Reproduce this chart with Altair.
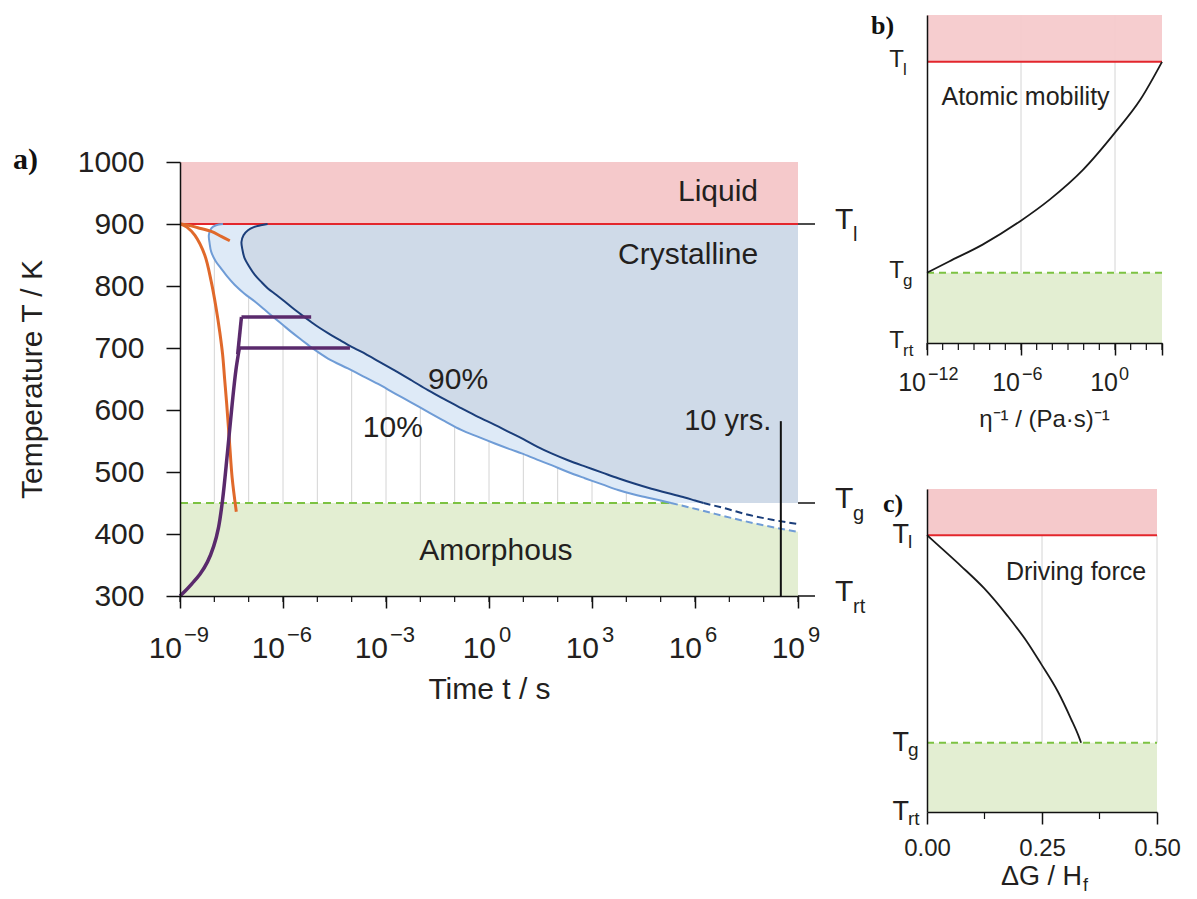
import altair as alt
import pandas as pd

FONT = "Liberation Sans"
SERIF = "Liberation Serif"
INK = "#231f20"
BLACK = "#111111"
PINK = "#f5c9cb"
RED = "#e3262c"
CRYST = "#cfdae8"
BAND = "#deeaf7"
GREEN = "#e3eed2"
GDASH = "#7cc242"
DARK = "#1b3e7a"
LIGHT = "#6f9cd6"
ORANGE = "#e0692b"
PURPLE = "#5a2a6c"
GRID = "#d4d4d4"

# ---------------- panel a data (T in K, L = log10(t / s)) ----------------
a_T10 = [900, 898, 893, 882, 870, 855, 840, 828, 815, 802, 788, 775, 762, 748, 737, 726, 716, 705, 700, 683,
         667, 656, 642, 627, 612, 597, 582, 568, 557, 546, 536, 530, 520, 511, 500, 490, 480, 471, 464, 459,
         454, 450]
a_L10 = [-7.75, -7.95, -8.09, -8.16, -8.14, -8.09, -7.96, -7.80, -7.62, -7.41, -7.13, -6.82, -6.54, -6.24, -6.00,
         -5.76, -5.53, -5.27, -5.15, -4.69, -4.11, -3.72, -3.23, -2.75, -2.26, -1.78, -1.29, -0.81, -0.33, 0.17,
         0.65, 0.95, 1.40, 1.82, 2.30, 2.79, 3.30, 3.76, 4.20, 4.60, 5.00, 5.30]
a_T90 = [900, 898, 895, 890, 882, 871, 858, 845, 832, 818, 807, 796, 786, 775, 764, 753, 742, 733, 724, 713,
         702, 694, 679, 664, 648, 632, 617, 603, 589, 576, 564, 553, 541, 530, 519, 509, 499, 490, 481, 473,
         466, 459, 454, 450]
a_L90 = [-6.45, -6.65, -6.85, -7.02, -7.15, -7.21, -7.18, -7.12, -6.99, -6.82, -6.64, -6.44, -6.20, -5.95, -5.71,
         -5.45, -5.18, -4.95, -4.69, -4.35, -4.00, -3.72, -3.23, -2.75, -2.26, -1.78, -1.29, -0.81, -0.32, 0.17,
         0.60, 1.00, 1.40, 1.82, 2.30, 2.79, 3.30, 3.76, 4.25, 4.73, 5.20, 5.70, 6.00, 6.25]
a_T10_dash = [450, 438, 426, 414, 403.5]
a_L10_dash = [5.30, 6.20, 7.05, 8.00, 9.00]
a_T90_dash = [450, 441, 431, 423, 416]
a_L90_dash = [6.25, 6.90, 7.55, 8.25, 9.00]
a_orange1_L = [-8.97, -8.80, -8.57, -8.28, -8.09, -7.95, -7.84, -7.76, -7.70, -7.64, -7.56, -7.48, -7.36]
a_orange1_T = [900, 895, 882, 850, 807, 765, 725, 690, 650, 610, 550, 490, 436]
a_orange2_L = [-8.97, -8.75, -8.48, -8.09, -7.80, -7.55]
a_orange2_T = [900, 898, 894, 888, 880, 873]
# purple heating curves: rising part, then isothermal holds
a_purple1_L = [-9.0, -8.85, -8.65, -8.42, -8.2, -8.02, -7.88, -7.76, -7.62, -7.48, -7.37, -7.27]
a_purple1_T = [300, 308, 320, 335, 355, 380, 410, 455, 530, 610, 665, 700]
a_purple1_hold_L = [-7.27, -4.05]
a_purple1_hold_T = [700, 700]
a_purple2_L = [-7.32, -7.21]
a_purple2_T = [690, 750]
a_purple2_hold_L = [-7.21, -5.18]
a_purple2_hold_T = [750, 750]
a_T_ticks = [300, 400, 500, 600, 700, 800, 900, 1000]
a_L_major = [-9, -6, -3, 0, 3, 6, 9]
a_L_minor = list(range(-9, 10))
a_grid_L = list(range(-8, 9))
a_marks_T = [900, 450, 300]
a_marks_sub = ["l", "g", "rt"]
a_lab_text = ["Liquid", "Crystalline", "Amorphous", "90%", "10%"]
a_lab_L = [6.67, 5.80, 0.20, -0.90, -2.80]
a_lab_T = [952, 850, 373, 649, 571]
a_10yrs_L = 8.5
a_10yrs_T = 582

# ---------------- panel b data ----------------
b_L = [-12, -10.59, -8.45, -6.05, -4.17, -2.03, 0.05, 1.61, 3.0]
b_T = [450, 474, 510, 560, 606, 670, 751, 819, 900]
b_L_major = [-12, -6, 0, 3]
b_L_labels = [-12, -6, 0]
b_L_minor = list(range(-12, 4))
b_grid_L = [-6, 0]

# ---------------- panel c data ----------------
c_x = [0, 0.030, 0.074, 0.124, 0.175, 0.218, 0.248, 0.285, 0.313, 0.329, 0.335]
c_T = [900, 873, 833, 785, 725, 668, 621, 560, 502, 466, 450]
c_x_major = [0, 0.25, 0.5]
c_x_minor = [0.125, 0.375]
c_grid_x = [0.25, 0.5]

WA, HA = 618, 434
WB, HB = 235, 328
WC, HC = 230, 323


def frame(**cols):
    return pd.DataFrame(cols)


one = frame(k=[0])


def sup(v):
    return str(v).replace("-", "\u2212")


# ================= panel a =================
xa = alt.Scale(domain=[-9, 9], nice=False, zero=False)
ya = alt.Scale(domain=[300, 1000], nice=False, zero=False)
axis_xa = alt.Axis(values=a_L_major, labels=False, tickSize=12, tickWidth=1.5, tickColor=BLACK,
                   domainColor=BLACK, domainWidth=1.5, grid=False, title="Time t / s", titleFont=FONT,
                   titleFontSize=30, titleFontWeight="normal", titleColor=INK, titlePadding=66, zindex=1)
axis_ya = alt.Axis(values=a_T_ticks, format="d", tickSize=14, tickWidth=1.5, tickColor=BLACK,
                   domainColor=BLACK, domainWidth=1.5, grid=False, labelFont=FONT, labelFontSize=30,
                   labelColor=INK, labelPadding=22, title="Temperature T / K", titleFont=FONT,
                   titleFontSize=30, titleFontWeight="normal", titleColor=INK, titlePadding=30, zindex=1)

a_grid = alt.Chart(frame(L=a_grid_L)).mark_rule(color=GRID, strokeWidth=1).encode(
    x="L:Q", y=alt.datum(450), y2=alt.datum(900))
a_band = alt.Chart(frame(T=a_T10, L=a_L10)).mark_area(
    orient="horizontal", color=BAND, interpolate="catmull-rom").encode(
    y=alt.Y("T:Q", scale=ya, axis=axis_ya), x=alt.X("L:Q", scale=xa, axis=axis_xa), x2=alt.datum(9))
a_cryst = alt.Chart(frame(T=a_T90, L=a_L90)).mark_area(
    orient="horizontal", color=CRYST, interpolate="catmull-rom").encode(
    y="T:Q", x="L:Q", x2=alt.datum(9))
a_green = alt.Chart(frame(L=[-9] + a_L10_dash, T=[450] + a_T10_dash)).mark_area(
    color=GREEN, interpolate="monotone").encode(x="L:Q", y="T:Q", y2=alt.datum(300))
a_pink = alt.Chart(one).mark_rect(color=PINK).encode(
    x=alt.datum(-9), x2=alt.datum(9), y=alt.datum(900), y2=alt.datum(1000))
a_red = alt.Chart(one).mark_rule(color=RED, strokeWidth=2).encode(
    x=alt.datum(-9), x2=alt.datum(9), y=alt.datum(900))
a_gdash = alt.Chart(one).mark_rule(color=GDASH, strokeWidth=2, strokeDash=[8, 5]).encode(
    x=alt.datum(-9), x2=alt.datum(a_L10_dash[0]), y=alt.datum(450))


def curve(L, T, color, width, dash=None, interp="catmull-rom"):
    kw = dict(color=color, strokeWidth=width, interpolate=interp)
    if dash:
        kw["strokeDash"] = dash
    return alt.Chart(frame(L=L, T=T, i=list(range(len(L))))).mark_line(**kw).encode(
        x="L:Q", y="T:Q", order="i:Q")


a_lines = [
    curve(a_L10, a_T10, LIGHT, 2),
    curve(a_L90, a_T90, DARK, 2),
    curve(a_L10_dash, a_T10_dash, LIGHT, 2, [7, 4], "monotone"),
    curve(a_L90_dash, a_T90_dash, DARK, 2, [7, 4], "monotone"),
    curve(a_orange1_L, a_orange1_T, ORANGE, 3),
    curve(a_orange2_L, a_orange2_T, ORANGE, 3),
    curve(a_purple1_L, a_purple1_T, PURPLE, 3.5),
    curve(a_purple1_hold_L, a_purple1_hold_T, PURPLE, 3.5, None, "linear"),
    curve(a_purple2_L, a_purple2_T, PURPLE, 3.5, None, "linear"),
    curve(a_purple2_hold_L, a_purple2_hold_T, PURPLE, 3.5, None, "linear"),
]

a_10yrs = alt.Chart(one).mark_rule(color=BLACK, strokeWidth=2).encode(
    x=alt.datum(a_10yrs_L), y=alt.datum(300), y2=alt.datum(a_10yrs_T))
a_texts = alt.Chart(frame(L=a_lab_L, T=a_lab_T, s=a_lab_text)).mark_text(
    font=FONT, fontSize=30, color=INK).encode(x="L:Q", y="T:Q", text="s:N")
a_10yrs_text = alt.Chart(one).mark_text(font=FONT, fontSize=29, color=INK, align="right").encode(
    x=alt.datum(8.22), y=alt.datum(a_10yrs_T), text=alt.value("10 yrs."))
a_rticks = alt.Chart(frame(T=a_marks_T)).mark_rule(color=BLACK, strokeWidth=1.5).encode(
    y="T:Q", x=alt.value(WA), x2=alt.value(WA + 17))
a_rT = alt.Chart(frame(T=a_marks_T)).mark_text(font=FONT, fontSize=30, color=INK, align="left", dy=-4).encode(
    y="T:Q", x=alt.value(WA + 37), text=alt.value("T"))
a_rsub = alt.Chart(frame(T=a_marks_T, s=a_marks_sub)).mark_text(
    font=FONT, fontSize=20, color=INK, align="left", dy=11).encode(
    y="T:Q", x=alt.value(WA + 55), text="s:N")
a_minor = alt.Chart(frame(L=a_L_minor)).mark_rule(color=BLACK, strokeWidth=1.2).encode(
    x="L:Q", y=alt.value(HA), y2=alt.value(HA + 6))


def exp_labels(field, vals, fs_base, fs_exp, y_base, y_exp, dx_base, dx_exp):
    d = pd.DataFrame({field: vals, "e": [sup(v) for v in vals]})
    base = alt.Chart(d).mark_text(font=FONT, fontSize=fs_base, color=INK, align="right",
                                  baseline="alphabetic", dx=dx_base).encode(
        x=f"{field}:Q", y=alt.value(y_base), text=alt.value("10"))
    ex = alt.Chart(d).mark_text(font=FONT, fontSize=fs_exp, color=INK, align="left",
                                baseline="alphabetic", dx=dx_exp).encode(
        x=f"{field}:Q", y=alt.value(y_exp), text="e:N")
    return [base, ex]


a_ticklabels = (exp_labels("L", [v for v in a_L_major if v < 0], 30, 22, HA + 62, HA + 46, 2, 4)
                + exp_labels("L", [v for v in a_L_major if v >= 0], 30, 22, HA + 62, HA + 46, 7, 10))
a_tag = alt.Chart(one).mark_text(font=SERIF, fontSize=30, fontWeight="bold", color=BLACK,
                                 align="left", baseline="middle").encode(
    x=alt.value(-167), y=alt.value(-2), text=alt.value("a)"))

panel_a = alt.layer(
    a_grid, a_band, a_cryst, a_green, a_pink, a_red, a_gdash, *a_lines, a_10yrs, a_texts,
    a_10yrs_text, a_rticks, a_rT, a_rsub, a_minor, *a_ticklabels, a_tag
).properties(width=WA, height=HA)

spacer = alt.Chart(one).mark_rect(opacity=0).encode(
    x=alt.value(0), x2=alt.value(1), y=alt.value(0), y2=alt.value(1)).properties(width=1, height=130)

col_a = alt.vconcat(spacer, panel_a, spacing=0).resolve_scale(x="independent", y="independent")

# ================= panel b =================
xb = alt.Scale(domain=[-12, 3], nice=False, zero=False)
yb = alt.Scale(domain=[300, 1000], nice=False, zero=False)
axis_xb = alt.Axis(values=b_L_major, labels=False, tickSize=12, tickWidth=1.5, tickColor=BLACK,
                   domainColor=BLACK, domainWidth=1.5, grid=False, title=None, zindex=1)
axis_yb = alt.Axis(labels=False, ticks=False, domainColor=BLACK, domainWidth=1.5, grid=False,
                   title=None, zindex=1)

b_grid = alt.Chart(frame(Lb=b_grid_L)).mark_rule(color=GRID, strokeWidth=1).encode(
    x=alt.X("Lb:Q", scale=xb, axis=axis_xb), y=alt.Y(datum=450, scale=yb, axis=axis_yb), y2=alt.datum(1000))
b_green = alt.Chart(one).mark_rect(color=GREEN).encode(
    x=alt.datum(-12), x2=alt.datum(3), y=alt.datum(300), y2=alt.datum(450))
b_pink = alt.Chart(one).mark_rect(color=PINK, opacity=0.92).encode(
    x=alt.datum(-12), x2=alt.datum(3), y=alt.datum(900), y2=alt.datum(1000))
b_red = alt.Chart(one).mark_rule(color=RED, strokeWidth=2).encode(
    x=alt.datum(-12), x2=alt.datum(3), y=alt.datum(900))
b_gdash = alt.Chart(one).mark_rule(color=GDASH, strokeWidth=2, strokeDash=[7, 5]).encode(
    x=alt.datum(-12), x2=alt.datum(3), y=alt.datum(450))
b_curve = alt.Chart(frame(Lb=b_L, Tb=b_T)).mark_line(color="#1a1a1a", strokeWidth=1.8,
                                                     interpolate="monotone").encode(x="Lb:Q", y="Tb:Q")
b_minor = alt.Chart(frame(Lb=b_L_minor)).mark_rule(color=BLACK, strokeWidth=1.2).encode(
    x="Lb:Q", y=alt.value(HB), y2=alt.value(HB + 7))
b_ticklabels = (exp_labels("Lb", [v for v in b_L_labels if v < 0], 25, 18, HB + 48, HB + 37, -1, 1)
                + exp_labels("Lb", [v for v in b_L_labels if v >= 0], 25, 18, HB + 48, HB + 37, 3, 4))
b_Tlab = alt.Chart(frame(Tb=a_marks_T)).mark_text(font=FONT, fontSize=24, color=INK, align="right", dy=-2).encode(
    y="Tb:Q", x=alt.value(-23), text=alt.value("T"))
b_sub = alt.Chart(frame(Tb=a_marks_T, s=a_marks_sub)).mark_text(
    font=FONT, fontSize=17, color=INK, align="left", dy=8).encode(y="Tb:Q", x=alt.value(-24), text="s:N")
b_text = alt.Chart(one).mark_text(font=FONT, fontSize=25, color=INK).encode(
    x=alt.datum(-5.71), y=alt.datum(825), text=alt.value("Atomic mobility"))
b_tag = alt.Chart(one).mark_text(font=SERIF, fontSize=26, fontWeight="bold", color=BLACK,
                                 align="left", baseline="top").encode(
    x=alt.value(-56), y=alt.value(-2), text=alt.value("b)"))
b_title = alt.Chart(one).mark_text(font=FONT, fontSize=24, color=INK, baseline="alphabetic").encode(
    x=alt.value(WB / 2), y=alt.value(HB + 84), text=alt.value("\u03b7\u207b\u00b9 / (Pa\u00b7s)\u207b\u00b9"))

panel_b = alt.layer(
    b_grid, b_green, b_pink, b_red, b_gdash, b_curve, b_minor, *b_ticklabels, b_Tlab, b_sub, b_text,
    b_tag, b_title
).properties(width=WB, height=HB)

# ================= panel c =================
xc = alt.Scale(domain=[0, 0.5], nice=False, zero=False)
yc = alt.Scale(domain=[300, 1000], nice=False, zero=False)
axis_xc = alt.Axis(values=c_x_major, format=".2f", labelFlush=False, tickSize=12, tickWidth=1.5,
                   tickColor=BLACK, domainColor=BLACK, domainWidth=1.5, grid=False, labelFont=FONT,
                   labelFontSize=24, labelColor=INK, labelPadding=12, title=None, zindex=1)
axis_yc = alt.Axis(labels=False, ticks=False, domainColor=BLACK, domainWidth=1.5, grid=False,
                   title=None, zindex=1)

c_grid = alt.Chart(frame(g=c_grid_x)).mark_rule(color=GRID, strokeWidth=1).encode(
    x=alt.X("g:Q", scale=xc, axis=axis_xc), y=alt.Y(datum=450, scale=yc, axis=axis_yc), y2=alt.datum(900))
c_green = alt.Chart(one).mark_rect(color=GREEN).encode(
    x=alt.datum(0), x2=alt.datum(0.5), y=alt.datum(300), y2=alt.datum(450))
c_pink = alt.Chart(one).mark_rect(color=PINK).encode(
    x=alt.datum(0), x2=alt.datum(0.5), y=alt.datum(900), y2=alt.datum(1000))
c_red = alt.Chart(one).mark_rule(color=RED, strokeWidth=2).encode(
    x=alt.datum(0), x2=alt.datum(0.5), y=alt.datum(900))
c_gdash = alt.Chart(one).mark_rule(color=GDASH, strokeWidth=2, strokeDash=[7, 5]).encode(
    x=alt.datum(0), x2=alt.datum(0.5), y=alt.datum(450))
c_curve = alt.Chart(frame(g=c_x, Tc=c_T)).mark_line(color="#1a1a1a", strokeWidth=1.8,
                                                    interpolate="monotone").encode(x="g:Q", y="Tc:Q")
c_minor = alt.Chart(frame(g=c_x_minor)).mark_rule(color=BLACK, strokeWidth=1.2).encode(
    x="g:Q", y=alt.value(HC), y2=alt.value(HC + 7))
c_Tlab = alt.Chart(frame(Tc=a_marks_T)).mark_text(font=FONT, fontSize=27, color=INK, align="right").encode(
    y="Tc:Q", x=alt.value(-18), text=alt.value("T"))
c_sub = alt.Chart(frame(Tc=a_marks_T, s=a_marks_sub)).mark_text(
    font=FONT, fontSize=19, color=INK, align="left", dy=7).encode(y="Tc:Q", x=alt.value(-19), text="s:N")
c_text = alt.Chart(one).mark_text(font=FONT, fontSize=25, color=INK).encode(
    x=alt.datum(0.324), y=alt.datum(820), text=alt.value("Driving force"))
c_tag = alt.Chart(one).mark_text(font=SERIF, fontSize=26, fontWeight="bold", color=BLACK,
                                 align="left", baseline="top").encode(
    x=alt.value(-44), y=alt.value(2), text=alt.value("c)"))
c_title = alt.Chart(one).mark_text(font=FONT, fontSize=27, color=INK, align="right",
                                   baseline="alphabetic").encode(
    x=alt.value(155), y=alt.value(HC + 73), text=alt.value("\u0394G / H"))
c_title_sub = alt.Chart(one).mark_text(font=FONT, fontSize=18, color=INK, align="left",
                                       baseline="alphabetic").encode(
    x=alt.value(156), y=alt.value(HC + 79), text=alt.value("f"))

panel_c = alt.layer(
    c_grid, c_green, c_pink, c_red, c_gdash, c_curve, c_minor, c_Tlab, c_sub, c_text, c_tag,
    c_title, c_title_sub
).properties(width=WC, height=HC)

right_col = alt.vconcat(panel_b, panel_c, spacing=57).resolve_scale(x="independent", y="independent")
chart = alt.hconcat(col_a, right_col, spacing=5).resolve_scale(
    x="independent", y="independent"
).properties(
    padding={"left": 5, "top": 5, "right": 0, "bottom": 0}
).configure(font=FONT).configure_view(stroke="transparent", strokeWidth=0)

chart.save("out.html", embed_options={"renderer": "svg", "actions": False})
